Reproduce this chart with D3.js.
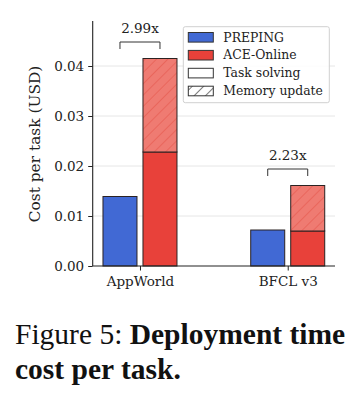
<!DOCTYPE html>
<html>
<head>
<meta charset="utf-8">
<script src="https://cdnjs.cloudflare.com/ajax/libs/d3/7.8.5/d3.min.js"></script>
<style>
  body { margin: 0; background: #fff; }
  svg text { font-family: "DejaVu Serif", serif; fill: #222; }
  .caption { font-family: "Liberation Serif", "Times New Roman", serif; font-size: 29.5px; color: #111; margin: 0; position: absolute; left: 15px; top: 317px; width: 349px; line-height: 35px; white-space: nowrap; }
</style>
</head>
<body>
<div id="chart"></div>
<p class="caption"><span>Figure 5: </span><b>Deployment time</b><br><b>cost per task.</b></p>
<script>
// data
const benchmarks = ["AppWorld", "BFCL v3"];
const methods = ["PREPING", "ACE-Online"];
const prepingTask = [0.0139, 0.0072];
const aceTask = [0.0228, 0.0070];
const aceMemory = [0.0187, 0.0091];
const ratioLabels = ["2.99x", "2.23x"];
const yTicks = [0, 0.01, 0.02, 0.03, 0.04];

const W = 364, H = 310;
const pLeft = 92.7, pRight = 335, pTop = 21, pBottom = 266;

const svg = d3.select("#chart").append("svg")
  .attr("width", W).attr("height", H);

const defs = svg.append("defs");
function hatch(id, bg, stroke) {
  const p = defs.append("pattern")
    .attr("id", id).attr("patternUnits", "userSpaceOnUse")
    .attr("width", 8).attr("height", 8)
    .attr("patternTransform", "rotate(45)");
  p.append("rect").attr("width", 8).attr("height", 8).attr("fill", bg);
  p.append("line").attr("x1", 0).attr("y1", 0).attr("x2", 0).attr("y2", 8)
    .attr("stroke", stroke).attr("stroke-width", 1.3);
}
hatch("hatchRed", "#ef7b72", "#e65a50");
hatch("hatchLeg", "#fff", "#333");

const x = d3.scalePoint().domain(benchmarks).range([pLeft, pRight]).padding(0.32);
const xs = d3.scaleBand().domain(methods).range([-37, 37]).paddingInner(0.15);
const y = d3.scaleLinear().domain([0, 0.049]).range([pBottom, pTop]);

// grid
svg.append("g").selectAll("line").data(yTicks.slice(1)).join("line")
  .attr("x1", pLeft).attr("x2", pRight)
  .attr("y1", d => y(d)).attr("y2", d => y(d))
  .attr("stroke", "#e6e6e6").attr("stroke-width", 1);

const bw = xs.bandwidth();
const edge = "#2b2222";
const blue = "#4169d4", red = "#e8413a";

const bars = svg.append("g");
benchmarks.forEach((b, i) => {
  const cx = x(b);
  bars.append("rect")
    .attr("x", cx + xs("PREPING")).attr("width", bw)
    .attr("y", y(prepingTask[i])).attr("height", y(0) - y(prepingTask[i]))
    .attr("fill", blue).attr("stroke", edge).attr("stroke-width", 1);
  bars.append("rect")
    .attr("x", cx + xs("ACE-Online")).attr("width", bw)
    .attr("y", y(aceTask[i])).attr("height", y(0) - y(aceTask[i]))
    .attr("fill", red).attr("stroke", edge).attr("stroke-width", 1);
  const tot = aceTask[i] + aceMemory[i];
  bars.append("rect")
    .attr("x", cx + xs("ACE-Online")).attr("width", bw)
    .attr("y", y(tot)).attr("height", y(aceTask[i]) - y(tot))
    .attr("fill", "url(#hatchRed)").attr("stroke", edge).attr("stroke-width", 1);

  // bracket
  const x1 = cx + xs("PREPING") + bw / 2, x2 = cx + xs("ACE-Online") + bw / 2;
  const by = y(tot) - 16.5;
  svg.append("path")
    .attr("d", `M${x1},${by + 7}V${by}H${x2}V${by + 7}`)
    .attr("fill", "none").attr("stroke", "#333").attr("stroke-width", 1);
  svg.append("text").attr("x", (x1 + x2) / 2).attr("y", by - 9)
    .attr("text-anchor", "middle").attr("font-size", 13.5).text(ratioLabels[i]);
});

// axes
const yAxis = svg.append("g").attr("transform", `translate(${pLeft},0)`)
  .call(d3.axisLeft(y).tickValues(yTicks).tickFormat(d3.format(".2f")).tickSize(4.5).tickPadding(4));
yAxis.select(".domain").attr("d", `M0,${pTop}V${pBottom}`);
const xAxis = svg.append("g").attr("transform", `translate(0,${pBottom})`)
  .call(d3.axisBottom(x).tickSize(4.5).tickPadding(6));
xAxis.select(".domain").attr("d", `M${pLeft},0H${pRight}`);
svg.selectAll(".domain").attr("stroke", "#222").attr("stroke-width", 1.1);
svg.selectAll(".tick line").attr("stroke", "#222").attr("stroke-width", 1);
svg.selectAll(".tick text").attr("font-family", "DejaVu Serif").attr("font-size", 13.5).attr("fill", "#222");

svg.append("text")
  .attr("transform", `translate(40,${(pTop + pBottom) / 2 + 0.5}) rotate(-90)`)
  .attr("text-anchor", "middle").attr("font-size", 15.4)
  .text("Cost per task (USD)");

// legend
const legendItems = [
  { label: "PREPING", fill: blue },
  { label: "ACE-Online", fill: red },
  { label: "Task solving", fill: "#fff" },
  { label: "Memory update", fill: "url(#hatchLeg)" }
];
const lg = svg.append("g").attr("transform", "translate(183.3,26.7)");
lg.append("rect").attr("width", 146).attr("height", 76).attr("rx", 2)
  .attr("fill", "#fff").attr("fill-opacity", 0.85).attr("stroke", "#d0d0d0");
legendItems.forEach((d, i) => {
  const cy = 10.6 + i * 17.9;
  lg.append("rect").attr("x", 5).attr("y", cy - 4.8).attr("width", 25).attr("height", 9.6)
    .attr("fill", d.fill).attr("stroke", "#333").attr("stroke-width", 1);
  lg.append("text").attr("x", 40).attr("y", cy + 4.3).attr("font-size", 12.4).text(d.label);
});
</script>
</body>
</html>
